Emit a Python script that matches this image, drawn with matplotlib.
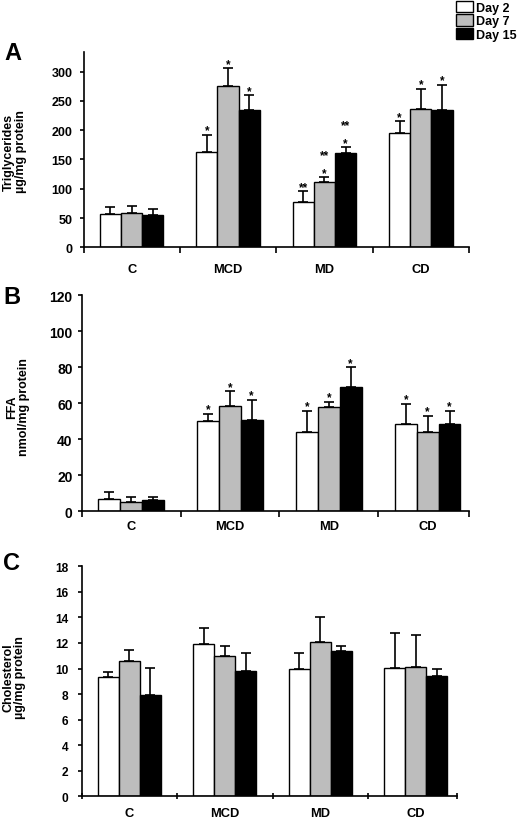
import matplotlib
matplotlib.use("Agg")
import matplotlib.pyplot as plt
import numpy as np

plt.rcParams['font.family'] = ['Liberation Sans', 'DejaVu Sans']
plt.rcParams['font.weight'] = 'bold'

groups = ["C", "MCD", "MD", "CD"]
days = ["Day 2", "Day 7", "Day 15"]
colors = ['white', '#bdbdbd', 'black']

# rows = Day 2, Day 7, Day 15 ; columns = groups
tg_mean = [[56.6, 162, 77.5, 195.5], [58.5, 275, 111, 235.5], [55, 235, 161.5, 235]]
tg_sd = [[12, 30, 18.5, 20], [12, 31, 8.5, 35.5], [11, 25, 9.5, 43]]
tg_stars = [["", "*", "**", "*"], ["", "*", "**\n*", "*"], ["", "*", "**\n*", "*"]]

ffa_mean = [[6.8, 50.3, 44, 48.3], [5.0, 58.6, 57.9, 44], [6.5, 50.9, 69, 48.3]]
ffa_sd = [[3.7, 3.7, 11.8, 11.4], [3.1, 8, 2.9, 8.9], [1.6, 11.1, 10.9, 7.5]]
ffa_stars = [["", "*", "*", "*"], ["", "*", "*", "*"], ["", "*", "*", "*"]]

chol_mean = [[9.3, 11.95, 10.0, 10.07], [10.57, 10.98, 12.1, 10.1], [7.96, 9.84, 11.4, 9.42]]
chol_sd = [[0.45, 1.22, 1.25, 2.7], [0.86, 0.8, 1.96, 2.5], [2.08, 1.4, 0.37, 0.55]]
chol_stars = [["", "", "", ""], ["", "", "", ""], ["", "", "", ""]]


def draw_panel(ax, means, sds, stars, ytop, yticks, xend, ysize, ypad, xpad, xdir):
    n = len(groups)
    x = np.arange(n) + 0.5
    width = 0.22
    handles = []
    for d in range(len(days)):
        pos = x + (d - 1) * width
        m = np.array(means[d])
        s = np.array(sds[d])
        b = ax.bar(pos, m, width, color=colors[d], edgecolor='black',
                   linewidth=1.0, zorder=2)
        handles.append(b)
        ax.errorbar(pos, m, yerr=[np.zeros(n), s], fmt='none', ecolor='black',
                    elinewidth=1.2, capsize=3.5, capthick=1.2, zorder=1)
        for i, txt in enumerate(stars[d]):
            if not txt:
                continue
            for k, line in enumerate(txt.split('\n')[::-1]):
                ax.annotate(line, (pos[i], m[i] + s[i]), xytext=(0, 1 + 13 * k),
                            textcoords='offset points', ha='center', va='baseline',
                            fontsize=8.5)
    ax.set_xlim(0, xend)
    ax.set_ylim(0, ytop)
    ax.set_yticks(yticks)
    ax.set_xticks([0, 1, 2, 3, xend])
    ax.set_xticklabels([])
    ax.set_xticks(x, minor=True)
    ax.set_xticklabels(groups, minor=True)
    for side in ['top', 'right']:
        ax.spines[side].set_visible(False)
    for side in ['left', 'bottom']:
        ax.spines[side].set_linewidth(1.2)
    ax.tick_params(axis='y', direction='out', length=3, width=1.2, pad=ypad, labelsize=ysize)
    ax.tick_params(axis='x', which='major', direction=xdir, length=4, width=1.2)
    ax.tick_params(axis='x', which='minor', length=0, pad=xpad, labelsize=9.3)
    return handles


fig = plt.figure(figsize=(5.2, 8.2), dpi=100)
axA = fig.add_axes([83.5 / 520, 0.6972, (469 - 83.5) / 520, 0.2378])
axB = fig.add_axes([0.157, 0.3752, 0.7455, 0.2638])
axC = fig.add_axes([0.157, 0.0277, 0.7213, 0.2805])

handles = draw_panel(axA, tg_mean, tg_sd, tg_stars, 333, range(0, 301, 50), 4.0, 9, 5, 11, 'out')
draw_panel(axB, ffa_mean, ffa_sd, ffa_stars, 120, range(0, 121, 20), 3.92, 10, 3.5, 6.5, 'out')
draw_panel(axC, chol_mean, chol_sd, chol_stars, 18, range(0, 19, 2), 3.93, 8.6, 6.5, 8, 'inout')

fig.text(15 / 520, 1 - 152 / 820, "Triglycerides\nµg/mg protein", rotation=90,
         ha='center', va='center', fontsize=9, linespacing=0.95)
fig.text(18 / 520, 1 - 407 / 820, "FFA\nnmol/mg protein", rotation=90,
         ha='center', va='center', fontsize=9, linespacing=0.95)
fig.text(14 / 520, 1 - 678 / 820, "Cholesterol\nµg/mg protein", rotation=90,
         ha='center', va='center', fontsize=9, linespacing=0.95)

fig.text(13 / 520, 1 - 53 / 820, "A", ha='center', va='center', fontsize=17)
fig.text(12 / 520, 1 - 297 / 820, "B", ha='center', va='center', fontsize=17)
fig.text(12 / 520, 1 - 563 / 820, "C", ha='center', va='center', fontsize=17)

fig.legend(handles, days, loc='upper right', bbox_to_anchor=(0.998, 1.0),
           frameon=False, fontsize=9, handlelength=1.3, handleheight=1.0,
           handletextpad=0.3, labelspacing=0.05, borderaxespad=0, borderpad=0.15)

fig.savefig('out.png', dpi=100)
